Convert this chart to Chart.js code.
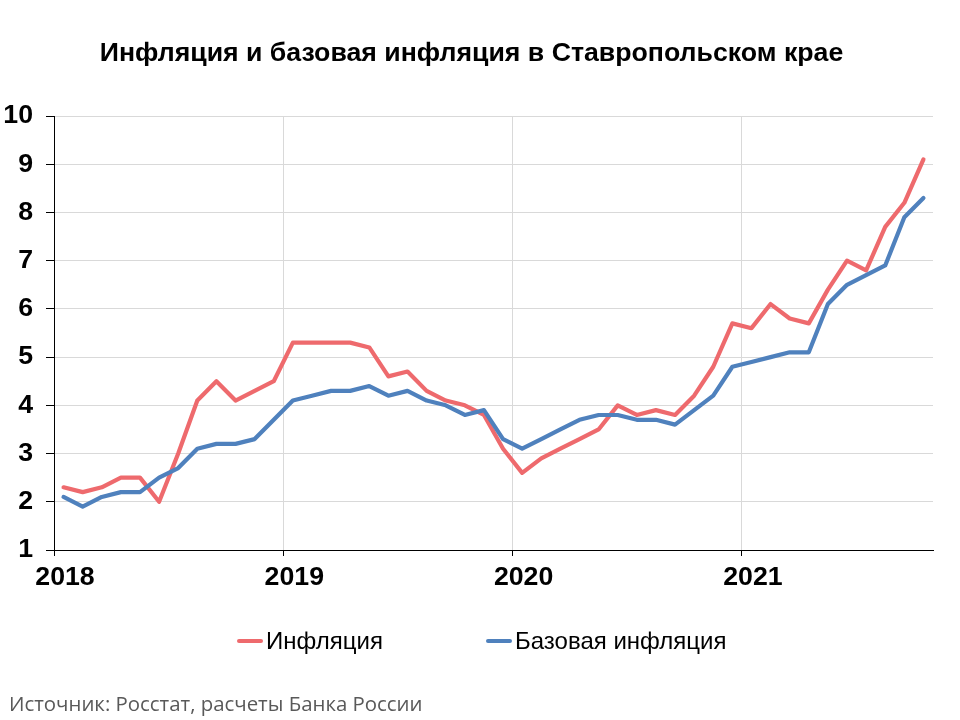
<!DOCTYPE html>
<html>
<head>
<meta charset="utf-8">
<script src="https://cdn.jsdelivr.net/npm/chart.js@4.4.1/dist/chart.umd.min.js"></script>
<style>
  html,body{margin:0;padding:0;background:#fff;}
  #wrap{position:relative;width:960px;height:720px;overflow:hidden;background:#fff;}
  #c{position:absolute;left:0;top:0;}
  #title{position:absolute;left:0;width:943px;top:37px;text-align:center;font:bold 26.7px "Liberation Sans",Arial,sans-serif;color:#000;white-space:nowrap;}
  .leg{position:absolute;top:626px;font:24px "Liberation Sans",Arial,sans-serif;color:#000;white-space:nowrap;line-height:30px;}
  .sw{display:inline-block;width:26px;height:4px;vertical-align:middle;margin-right:3px;position:relative;top:-2px;border-radius:2px;}
  #src{position:absolute;left:9px;top:689px;font:20.4px "Open Sans",sans-serif;color:#595959;white-space:nowrap;}
</style>
</head>
<body>
<div id="wrap">
  <canvas id="c" width="960" height="720"></canvas>
  <div id="title">Инфляция и базовая инфляция в Ставропольском крае</div>
  <div class="leg" style="left:237px"><span class="sw" style="background:#EE6A6D"></span>Инфляция</div>
  <div class="leg" style="left:486px"><span class="sw" style="background:#4F81BD"></span>Базовая инфляция</div>
  <div id="src">Источник: Росстат, расчеты Банка России</div>
</div>
<script>
// Tick labels (years)
const years = ['2018', '2019', '2020', '2021'];
// Monthly values, Jan 2018 – Oct 2021
const inflation = [
  2.3, 2.2, 2.3, 2.5, 2.5, 2.0, 3.0, 4.1, 4.5, 4.1, 4.3, 4.5,
  5.3, 5.3, 5.3, 5.3, 5.2, 4.6, 4.7, 4.3, 4.1, 4.0, 3.8, 3.1,
  2.6, 2.9, 3.1, 3.3, 3.5, 4.0, 3.8, 3.9, 3.8, 4.2, 4.8, 5.7,
  5.6, 6.1, 5.8, 5.7, 6.4, 7.0, 6.8, 7.7, 8.2, 9.1
];
const coreInflation = [
  2.1, 1.9, 2.1, 2.2, 2.2, 2.5, 2.7, 3.1, 3.2, 3.2, 3.3, 3.7,
  4.1, 4.2, 4.3, 4.3, 4.4, 4.2, 4.3, 4.1, 4.0, 3.8, 3.9, 3.3,
  3.1, 3.3, 3.5, 3.7, 3.8, 3.8, 3.7, 3.7, 3.6, 3.9, 4.2, 4.8,
  4.9, 5.0, 5.1, 5.1, 6.1, 6.5, 6.7, 6.9, 7.9, 8.3
];
const seriesNames = ['Инфляция', 'Базовая инфляция'];

const toPoints = arr => arr.map((v, i) => ({x: i + 0.5, y: v}));

new Chart(document.getElementById('c'), {
  type: 'line',
  data: {
    datasets: [
      {label: seriesNames[0], data: toPoints(inflation), borderColor: '#EE6A6D', backgroundColor: '#EE6A6D',
       borderWidth: 4.2, pointRadius: 0, tension: 0, borderJoinStyle: 'round', borderCapStyle: 'round', order: 2},
      {label: seriesNames[1], data: toPoints(coreInflation), borderColor: '#4F81BD', backgroundColor: '#4F81BD',
       borderWidth: 4.2, pointRadius: 0, tension: 0, borderJoinStyle: 'round', borderCapStyle: 'round', order: 1}
    ]
  },
  options: {
    responsive: false,
    animation: false,
    devicePixelRatio: 1,
    layout: {padding: {top: 116, right: 27, bottom: 120, left: 0}},
    plugins: {legend: {display: false}, tooltip: {enabled: false}, title: {display: false}},
    scales: {
      x: {
        type: 'linear', min: 0, max: 46,
        afterBuildTicks: axis => { axis.ticks = years.map((y, i) => ({value: i * 12})); },
        afterFit: s => { s.height = 50; },
        ticks: {
          callback: v => years[Math.round(v / 12)],
          font: {family: 'Liberation Sans', size: 26.7, weight: 'bold'},
          color: '#000', labelOffset: 11, padding: 6, maxRotation: 0, autoSkip: false
        },
        grid: {color: '#d9d9d9', lineWidth: 1, tickColor: '#000', tickLength: 6},
        border: {color: '#000', width: 1}
      },
      y: {
        min: 1, max: 10,
        afterFit: s => { s.width = 54; },
        ticks: {
          stepSize: 1,
          font: {family: 'Liberation Sans', size: 26.7, weight: 'bold'},
          color: '#000', padding: 13
        },
        grid: {color: '#d9d9d9', lineWidth: 1, tickColor: '#000', tickLength: 8},
        border: {color: '#000', width: 1}
      }
    }
  }
});
</script>
</body>
</html>
